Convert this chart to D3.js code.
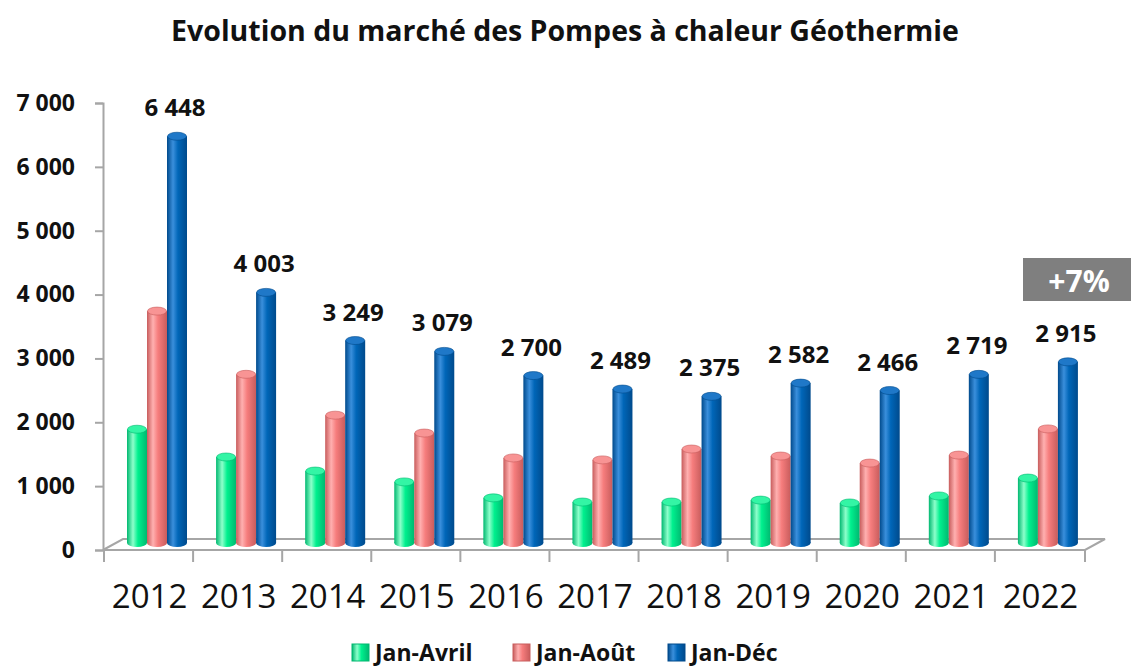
<!DOCTYPE html>
<html>
<head>
<meta charset="utf-8">
<script src="https://cdn.jsdelivr.net/npm/d3@7"></script>
<style>
  html, body { margin: 0; padding: 0; background: #fff; }
  svg { display: block; }
  text { font-family: "Open Sans", "Liberation Sans", sans-serif; }
</style>
</head>
<body>
<div id="chart"></div>
<script>
// Data
const years = ["2012", "2013", "2014", "2015", "2016", "2017", "2018", "2019", "2020", "2021", "2022"];
const seriesNames = ["Jan-Avril", "Jan-Août", "Jan-Déc"];
const janAvril = [1860, 1425, 1205, 1035, 785, 720, 720, 750, 705, 815, 1095];
const janAout = [3710, 2720, 2080, 1800, 1410, 1380, 1550, 1440, 1330, 1455, 1865];
const janDec = [6448, 4003, 3249, 3079, 2700, 2489, 2375, 2582, 2466, 2719, 2915];
const yTicks = [0, 1000, 2000, 3000, 4000, 5000, 6000, 7000];
const badgeText = "+7%";

const W = 1131, H = 670;
const svg = d3.select("#chart").append("svg")
  .attr("width", W)
  .attr("height", H);

// colours per series: [edge, main, highlight, top]
const palette = [
  ["#00b870", "#00f08e", "#8dffcb", "#33f5a5"],
  ["#c85c5c", "#f67d7d", "#ffb0b0", "#f89494"],
  ["#004a8c", "#0066b8", "#3a8fdc", "#1f78c8"]
];

const defs = svg.append("defs");
palette.forEach((c, i) => {
  const g = defs.append("linearGradient").attr("id", "cyl" + i)
    .attr("x1", "0%").attr("x2", "100%").attr("y1", "0%").attr("y2", "0%");
  g.append("stop").attr("offset", "0%").attr("stop-color", c[0]);
  g.append("stop").attr("offset", "30%").attr("stop-color", c[2]);
  g.append("stop").attr("offset", "55%").attr("stop-color", c[1]);
  g.append("stop").attr("offset", "100%").attr("stop-color", c[0]);
});

// scales: axis plane is at the front, bars a little further back
const axisX = 103;
const x = d3.scaleBand().domain(years).range([axisX + 1, 1084]);
const xs = d3.scaleBand().domain(seriesNames).range([23, 83]);
const y = d3.scaleLinear().domain([0, 7000]).range([550, 103]);
const yBar = d3.scaleLinear().domain([0, 7000]).range([548, 101]);
const floorY = 543;
const depthX = 20, depthY = -11;

const rows = years.map((yr, i) => ({ year: yr, values: [janAvril[i], janAout[i], janDec[i]] }));

// title
svg.append("text")
  .attr("x", 565).attr("y", 41)
  .attr("text-anchor", "middle")
  .attr("font-size", 28.5).attr("font-weight", 700)
  .attr("fill", "#111")
  .text("Evolution du marché des Pompes à chaleur Géothermie");

// floor (3D base)
const grey = "#a6a6a6";
const fl = svg.append("g").attr("stroke", grey).attr("stroke-width", 2).attr("fill", "none");
const x0 = axisX, x1 = x.range()[1] + 1, y0 = y(0);
fl.append("path").attr("d", `M${x0},${y0} L${x1},${y0} L${x1 + depthX},${y0 + depthY} L${x0 + depthX},${y0 + depthY} Z`);

// y axis
const yAxis = svg.append("g")
  .attr("transform", `translate(${axisX},0)`)
  .call(d3.axisLeft(y).tickValues(yTicks).tickSize(8).tickPadding(20)
    .tickFormat(d => d3.format(",")(d).replace(/,/g, " ")));
yAxis.select(".domain").attr("stroke", grey).attr("stroke-width", 2);
yAxis.selectAll(".tick line").attr("stroke", grey).attr("stroke-width", 2);
yAxis.selectAll(".tick text")
  .attr("font-size", 23).attr("font-weight", 700).attr("fill", "#111")
  .attr("font-family", "'Open Sans', sans-serif");

// x axis (ticks between categories)
const xAxis = svg.append("g").attr("transform", `translate(0,${y0})`);
const tickXs = years.map(d => x(d)).concat([x.range()[1] + 1]);
xAxis.selectAll("line").data(tickXs).join("line")
  .attr("x1", d => d).attr("x2", d => d)
  .attr("y1", 0).attr("y2", 12)
  .attr("stroke", grey).attr("stroke-width", 2);
xAxis.selectAll("text").data(years).join("text")
  .attr("x", d => x(d) + x.bandwidth() / 2 + 1)
  .attr("y", 58)
  .attr("text-anchor", "middle")
  .attr("font-size", 33)
  .attr("font-family", "'Liberation Sans Narrow', 'Open Sans', sans-serif")
  .attr("fill", "#111")
  .text(d => d);

// bars drawn as cylinders
const bw = xs.bandwidth();
const ry = 4;
const groups = svg.append("g").selectAll("g").data(rows).join("g")
  .attr("transform", d => `translate(${x(d.year)},0)`);

seriesNames.forEach((s, i) => {
  const cx = xs(s) + bw / 2;
  groups.append("ellipse")
    .attr("cx", cx).attr("cy", floorY)
    .attr("rx", bw / 2).attr("ry", ry)
    .attr("fill", `url(#cyl${i})`);
  groups.append("rect")
    .attr("x", xs(s)).attr("width", bw)
    .attr("y", d => yBar(d.values[i]))
    .attr("height", d => floorY - yBar(d.values[i]))
    .attr("fill", `url(#cyl${i})`);
  groups.append("ellipse")
    .attr("cx", cx).attr("cy", d => yBar(d.values[i]))
    .attr("rx", bw / 2 - 0.5).attr("ry", ry)
    .attr("fill", palette[i][3])
    .attr("stroke", palette[i][0]).attr("stroke-width", 0.6);
});

// value labels above the Jan-Déc cylinders
groups.append("text")
  .attr("x", xs("Jan-Déc") + bw / 2 - 2)
  .attr("y", d => yBar(d.values[2]) - 20)
  .attr("text-anchor", "middle")
  .attr("font-size", 24).attr("font-weight", 700)
  .attr("fill", "#111")
  .text(d => d3.format(",")(d.values[2]).replace(/,/g, " "));

// +7% badge
svg.append("rect")
  .attr("x", 1023).attr("y", 258).attr("width", 108).attr("height", 43)
  .attr("fill", "#7f7f7f");
svg.append("text")
  .attr("x", 1079).attr("y", 292)
  .attr("text-anchor", "middle")
  .attr("font-size", 30).attr("font-weight", 700)
  .attr("fill", "#fff")
  .text(badgeText);

// legend
const legendX = [352, 513, 668];
const legend = svg.append("g").selectAll("g").data(seriesNames).join("g")
  .attr("transform", (d, i) => `translate(${legendX[i]},644)`);
legend.append("rect")
  .attr("width", 17).attr("height", 17)
  .attr("fill", (d, i) => `url(#cyl${i})`)
  .attr("stroke", (d, i) => palette[i][0]).attr("stroke-width", 1);
legend.append("text")
  .attr("x", 23).attr("y", 17)
  .attr("font-size", 23).attr("font-weight", 700)
  .attr("fill", "#111")
  .text(d => d);
</script>
</body>
</html>
